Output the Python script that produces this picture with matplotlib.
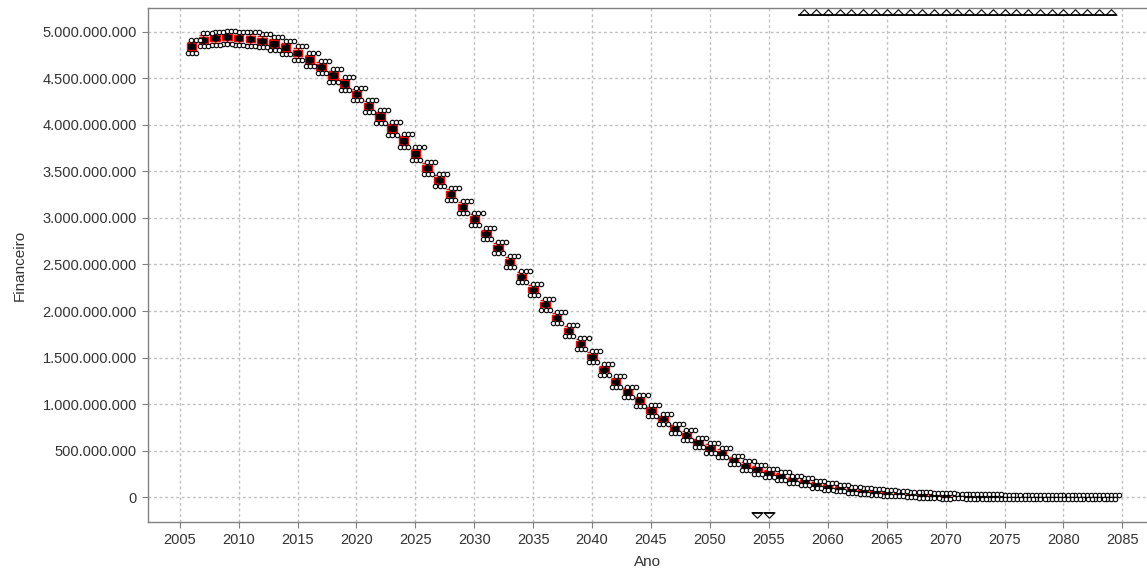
import matplotlib
matplotlib.use("Agg")
import matplotlib.pyplot as plt
import numpy as np
from matplotlib.path import Path
from matplotlib.ticker import FuncFormatter

plt.rcParams['font.family'] = ['Liberation Sans', 'DejaVu Sans']

years = list(range(2006, 2085))

# median (billions)
median = [4.84, 4.91, 4.93, 4.94, 4.93, 4.92, 4.90, 4.87, 4.83, 4.77,
          4.70, 4.62, 4.53, 4.44, 4.33, 4.20, 4.09, 3.96, 3.83, 3.69,
          3.54, 3.41, 3.26, 3.12, 2.99, 2.83, 2.68, 2.53, 2.37, 2.23,
          2.07, 1.93, 1.79, 1.65, 1.51, 1.37, 1.24, 1.13, 1.04, 0.93,
          0.84, 0.74, 0.67, 0.59, 0.53, 0.48, 0.40, 0.34, 0.30, 0.26,
          0.23, 0.19, 0.17, 0.14, 0.115, 0.097, 0.080, 0.068, 0.057, 0.047,
          0.038, 0.030, 0.024, 0.019, 0.015, 0.012, 0.010, 0.008, 0.007, 0.006,
          0.005, 0.004, 0.004, 0.003, 0.003, 0.002, 0.002, 0.002, 0.002]

# half height of box (billions)
box_half = [0.035, 0.035, 0.035, 0.035, 0.035, 0.035, 0.035, 0.035, 0.035, 0.035,
            0.035, 0.035, 0.035, 0.035, 0.035, 0.035, 0.035, 0.035, 0.035, 0.035,
            0.032, 0.032, 0.032, 0.032, 0.032, 0.030, 0.030, 0.030, 0.030, 0.030,
            0.030, 0.030, 0.030, 0.030, 0.030, 0.028, 0.028, 0.028, 0.028, 0.028,
            0.025, 0.025, 0.025, 0.025, 0.025, 0.022, 0.022, 0.022, 0.022, 0.022,
            0.018, 0.018, 0.018, 0.018, 0.018, 0.015, 0.015, 0.015, 0.015, 0.015,
            0.012, 0.012, 0.012, 0.012, 0.012, 0.010, 0.010, 0.010, 0.010, 0.010,
            0.008, 0.008, 0.008, 0.008, 0.008, 0.008, 0.008, 0.008, 0.008]

# whisker reach from median (billions)
whisker = [0.050, 0.050, 0.050, 0.050, 0.050, 0.050, 0.050, 0.050, 0.050, 0.050,
           0.050, 0.050, 0.050, 0.050, 0.050, 0.050, 0.050, 0.050, 0.050, 0.050,
           0.048, 0.048, 0.048, 0.048, 0.048, 0.045, 0.045, 0.045, 0.045, 0.045,
           0.045, 0.045, 0.045, 0.045, 0.045, 0.042, 0.042, 0.042, 0.042, 0.042,
           0.038, 0.038, 0.038, 0.038, 0.038, 0.034, 0.034, 0.034, 0.034, 0.034,
           0.028, 0.028, 0.028, 0.028, 0.028, 0.024, 0.024, 0.024, 0.024, 0.024,
           0.020, 0.020, 0.020, 0.020, 0.020, 0.016, 0.016, 0.016, 0.016, 0.016,
           0.014, 0.014, 0.014, 0.014, 0.014, 0.014, 0.014, 0.014, 0.014]

# outlier reach from median (billions)
outlier = [0.070, 0.070, 0.070, 0.070, 0.070, 0.070, 0.070, 0.070, 0.070, 0.070,
           0.068, 0.068, 0.068, 0.068, 0.068, 0.068, 0.068, 0.068, 0.068, 0.068,
           0.065, 0.065, 0.065, 0.065, 0.065, 0.062, 0.062, 0.062, 0.062, 0.062,
           0.062, 0.062, 0.062, 0.062, 0.062, 0.058, 0.058, 0.058, 0.058, 0.058,
           0.052, 0.052, 0.052, 0.052, 0.052, 0.046, 0.046, 0.046, 0.046, 0.046,
           0.040, 0.040, 0.040, 0.040, 0.040, 0.034, 0.034, 0.034, 0.034, 0.034,
           0.028, 0.028, 0.028, 0.028, 0.028, 0.024, 0.024, 0.024, 0.024, 0.024,
           0.020, 0.020, 0.020, 0.020, 0.020, 0.020, 0.020, 0.020, 0.020]

high_farout_years = list(range(2058, 2085))
low_farout_years = [2054, 2055]

x_ticks = list(range(2005, 2090, 5))
y_ticks = [v * 1e9 for v in np.arange(0, 5.01, 0.5)]

fig = plt.figure(figsize=(11.47, 5.71), dpi=100)
ax = fig.add_axes([148 / 1147, 1 - 522 / 571, 1 - 148 / 1147, 514 / 571])

ax.set_xlim(2002.31, 2087.09)
ax.set_ylim(-0.265e9, 5.253e9)

yr = np.array(years, dtype=float)
med = np.array(median) * 1e9
bh = np.array(box_half) * 1e9
wk = np.array(whisker) * 1e9
ol = np.array(outlier) * 1e9

bw = 0.8
# whiskers
ax.vlines(yr, med - wk, med + wk, colors='#ff0000', lw=1.0, zorder=3)
ax.hlines(med + wk, yr - bw / 2, yr + bw / 2, colors='#ff0000', lw=1.0, zorder=3)
ax.hlines(med - wk, yr - bw / 2, yr + bw / 2, colors='#ff0000', lw=1.0, zorder=3)
# boxes
ax.bar(yr, 2 * bh, bottom=med - bh, width=bw, color='black', edgecolor='#ff0000',
       linewidth=1.0, zorder=4)
# mean
ax.plot(yr, med, 'o', color='black', ms=4, zorder=5)
# outliers
for dx in (0.0, 0.35, 0.7):
    ax.plot(yr + dx, med + ol, 'o', mfc='white', mec='black', ms=3.2, mew=0.8, zorder=6)
for dx in (-0.3, 0.05, 0.4):
    ax.plot(yr + dx, med - ol, 'o', mfc='white', mec='black', ms=3.2, mew=0.8, zorder=6)

# far-out markers
up_tri = Path([(-1, -0.5), (0, 0.5), (1, -0.5), (-1, -0.5)],
              [Path.MOVETO, Path.LINETO, Path.LINETO, Path.CLOSEPOLY])
dn_tri = Path([(-1, 0.5), (0, -0.5), (1, 0.5), (-1, 0.5)],
              [Path.MOVETO, Path.LINETO, Path.LINETO, Path.CLOSEPOLY])
hf = np.array(high_farout_years, dtype=float)
ax.plot(hf, np.full(len(hf), 5.205e9), linestyle='none', marker=up_tri, ms=8,
        mfc='white', mec='black', mew=0.8, zorder=7, clip_on=False)
ax.hlines(np.full(len(hf), 5.178e9), hf - 0.5, hf + 0.5, colors='black', lw=1.2, zorder=7)
lf = np.array(low_farout_years, dtype=float)
ax.plot(lf, np.full(len(lf), -0.195e9), linestyle='none', marker=dn_tri, ms=8,
        mfc='white', mec='black', mew=0.8, zorder=7)
ax.hlines(np.full(len(lf), -0.168e9), lf - 0.45, lf + 0.45, colors='black', lw=1.2, zorder=7)

ax.set_xticks(x_ticks)
ax.set_yticks(y_ticks)
ax.yaxis.set_major_formatter(FuncFormatter(lambda v, p: f"{int(round(v)):,}".replace(',', '.')))
ax.grid(True, color='#c0c0c0', linestyle=(0, (2, 2)), linewidth=1.0)
ax.set_axisbelow(True)

for s in ('left', 'bottom', 'top'):
    ax.spines[s].set_color('#808080')
    ax.spines[s].set_linewidth(1.0)
ax.spines['right'].set_visible(False)
ax.tick_params(axis='both', colors='#808080', labelcolor='#333333', length=4,
               labelsize=10.5, direction='out', pad=4)

ax.set_xlabel('Ano', fontsize=11, color='#333333', labelpad=6)
ax.set_ylabel('Financeiro', fontsize=11, color='#333333', labelpad=11)

fig.savefig('out.png', dpi=100)
